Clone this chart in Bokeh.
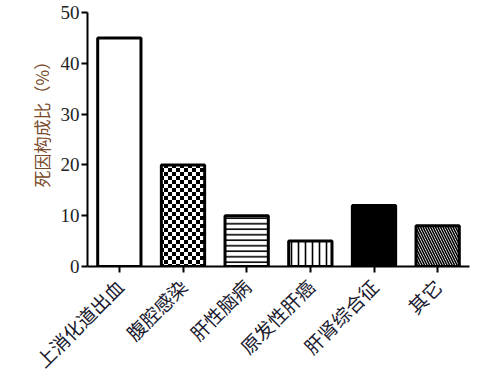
import math, zlib, struct, base64
from bokeh.plotting import figure
from bokeh.models import ColumnDataSource, FixedTicker, ImageURLTexture, Title
from bokeh.embed import file_html
from bokeh.resources import INLINE

categories = ["上消化道出血", "腹腔感染", "肝性脑病", "原发性肝癌", "肝肾综合征", "其它"]
values = [45, 20, 10, 5, 12, 8]
y_ticks = [0, 10, 20, 30, 40, 50]
y_title = "死因构成比（%）"

fills = ["white", "white", "white", "white", "black", "white"]
hatches = ["blank", "checker", "horizontal_line", "vertical_line", "blank", "left_diagonal_line"]
hatch_scales = [5, 5, 5.5, 7, 5, 5]


def checker_png(cell=4):
    n = cell * 2
    rows = b""
    for y in range(n):
        row = b"\x00"
        for x in range(n):
            black = ((x // cell) + (y // cell)) % 2 == 0
            row += b"\x00" if black else b"\xff"
        rows += row
    def chunk(t, d):
        c = struct.pack(">I", len(d)) + t + d
        return c + struct.pack(">I", zlib.crc32(t + d) & 0xffffffff)
    png = b"\x89PNG\r\n\x1a\n" + chunk(b"IHDR", struct.pack(">IIBBBBB", n, n, 8, 0, 0, 0, 0)) \
        + chunk(b"IDAT", zlib.compress(rows)) + chunk(b"IEND", b"")
    return "data:image/png;base64," + base64.b64encode(png).decode()


src = ColumnDataSource(dict(x=categories, top=values, fill=fills, hatch=hatches, hs=hatch_scales))

p = figure(x_range=categories, y_range=(0, 50), output_backend="svg", toolbar_location=None,
           frame_width=382, frame_height=254, min_border_left=87, min_border_top=12,
           min_border_right=14, min_border_bottom=100)
p.x_range.range_padding = 0.0
p.x_range.factor_padding = 0.0
p.x_range.group_padding = 0.0

p.vbar(x="x", top="top", width=0.68, source=src, fill_color="fill", line_color="black",
       line_width=3, hatch_pattern="hatch", hatch_color="black", hatch_weight=1.6, hatch_scale="hs",
       hatch_extra={"checker": ImageURLTexture(url=checker_png(4), repetition="repeat")})

p.outline_line_color = None
p.grid.visible = False
p.background_fill_color = "white"

p.yaxis.ticker = FixedTicker(ticks=y_ticks)
p.yaxis.minor_tick_line_color = None
p.yaxis.major_tick_in = 0
p.yaxis.major_tick_out = 6
p.yaxis.axis_line_width = 2
p.yaxis.major_tick_line_width = 2
p.yaxis.major_label_text_font = "Liberation Serif"
p.yaxis.major_label_text_font_size = "19px"
p.yaxis.major_label_text_color = "#222222"
p.yaxis.major_label_standoff = 2

title = Title(text=y_title, align="left", offset=79, standoff=8,
              text_font="Noto Sans CJK SC", text_font_size="17px",
              text_font_style="normal", text_color="#7a4a2a")
p.add_layout(title, "left")

p.xaxis.axis_line_width = 2
p.xaxis.major_tick_line_width = 2
p.xaxis.major_tick_in = 0
p.xaxis.major_tick_out = 6
p.xaxis.major_label_orientation = math.pi / 4
p.xaxis.major_label_text_font = "Noto Sans CJK SC"
p.xaxis.major_label_text_font_size = "19px"
p.xaxis.major_label_text_color = "#1a1a2e"
p.xaxis.major_label_standoff = 10

open("out.html", "w").write(file_html(p, INLINE))
